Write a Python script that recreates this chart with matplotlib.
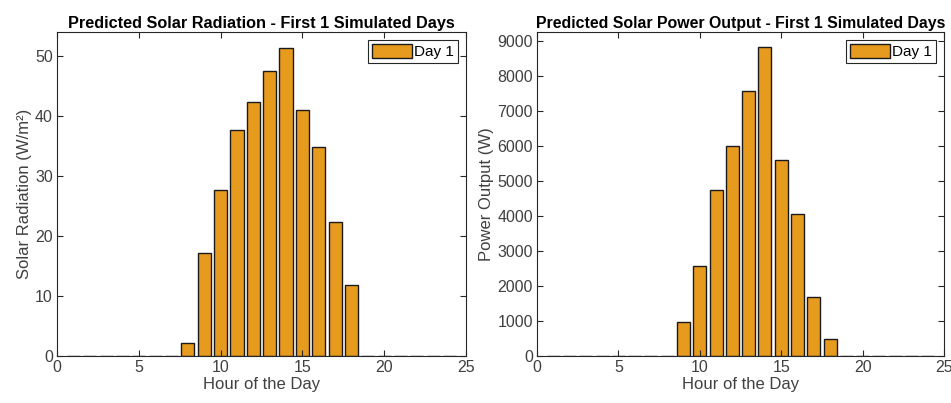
import numpy as np
import matplotlib
matplotlib.use('Agg')
import matplotlib.pyplot as plt

plt.rcParams['font.family'] = ['Liberation Sans', 'DejaVu Sans']

hours = np.arange(1, 25)
radiation = [0, 0, 0, 0, 0, 0, 0, 2.2, 17.1, 27.7, 37.7, 42.3, 47.5, 51.4,
             41.0, 34.9, 22.4, 11.9, 0.05, 0, 0, 0, 0, 0]
power = [0, 0, 0, 0, 0, 0, 0, 10, 980, 2565, 4755, 5990, 7560, 8835,
         5610, 4070, 1680, 485, 0, 0, 0, 0, 0, 0]

bar_color = '#E69B1E'
ax_color = '#262626'
txt_color = '#404040'

fig = plt.figure(figsize=(9.51, 4.03), dpi=100)
ax1 = fig.add_axes([57/951, 1 - 356/403, 409/951, 324/403])
ax2 = fig.add_axes([537/951, 1 - 356/403, 407/951, 324/403])


def style(ax, values, ylabel, title, ymax, tsize):
    ax.bar(hours, values, width=0.8, color=bar_color, edgecolor='#1a1a1a',
           linewidth=1.0, label='Day 1')
    ax.set_xlim(0, 25)
    ax.set_ylim(0, ymax)
    ax.set_xticks([0, 5, 10, 15, 20, 25])
    ax.tick_params(direction='in', top=True, right=True, length=4,
                   width=0.8, color=ax_color, labelcolor=txt_color,
                   labelsize=11.5, pad=3)
    for s in ax.spines.values():
        s.set_color(ax_color)
        s.set_linewidth(0.8)
    ax.set_xlabel('Hour of the Day', fontsize=12, color=txt_color, labelpad=1)
    ax.set_ylabel(ylabel, fontsize=12, color=txt_color, labelpad=2)
    ax.set_title(title, fontsize=tsize, fontweight='bold', color='black', pad=3)
    leg = ax.legend(loc='upper right', fontsize=11, fancybox=False,
                    framealpha=1, edgecolor=ax_color, handlelength=2.6,
                    handleheight=1.0, handletextpad=0.15, borderpad=0.25,
                    borderaxespad=0.55)
    leg.get_frame().set_linewidth(0.8)


style(ax1, radiation, 'Solar Radiation (W/m\u00b2)',
      'Predicted Solar Radiation - First 1 Simulated Days', 54, 11.7)
ax1.set_yticks([0, 10, 20, 30, 40, 50])
style(ax2, power, 'Power Output (W)',
      'Predicted Solar Power Output - First 1 Simulated Days', 9260, 11.4)
ax2.set_yticks(np.arange(0, 9001, 1000))

fig.savefig('out.png', dpi=100)
